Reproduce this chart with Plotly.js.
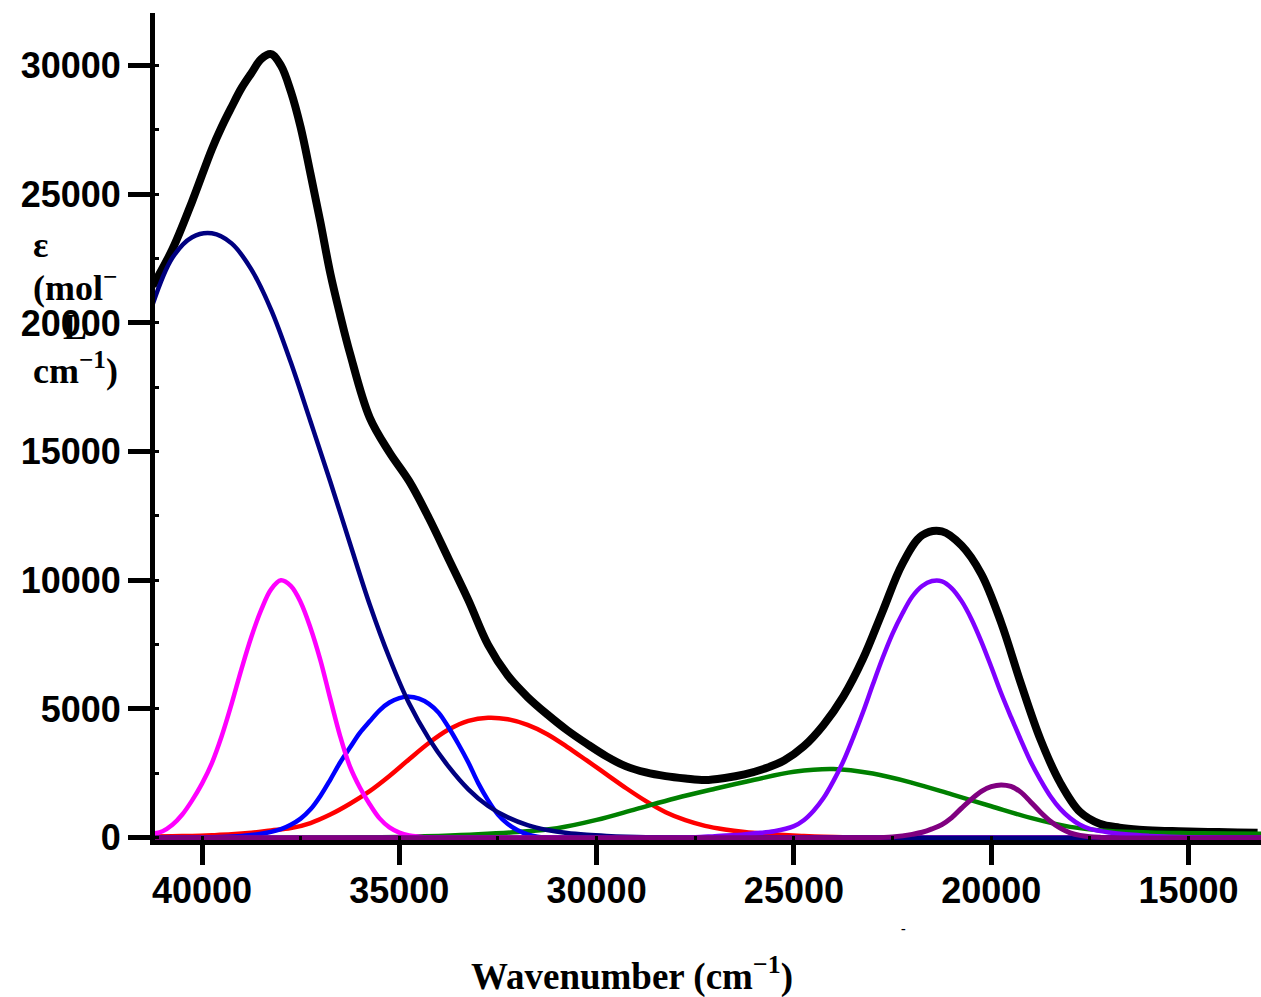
<!DOCTYPE html>
<html>
<head>
<meta charset="utf-8">
<script src="https://cdn.plot.ly/plotly-3.0.1.min.js"></script>
<style>html,body{margin:0;padding:0;background:#fff;}</style>
</head>
<body>
<div id="chart" style="width:1261px;height:997px;"></div>
<script>
// ---- tick labels ----
const xTickVals = [15000, 20000, 25000, 30000, 35000, 40000];
const xTickText = ["15000", "20000", "25000", "30000", "35000", "40000"];
const yTickVals = [0, 5000, 10000, 15000, 20000, 25000, 30000];
const yTickText = ["0", "5000", "10000", "15000", "20000", "25000", "30000"];

// ---- total (black) ----
const totalX = [41250, 40750, 40250, 39750, 39500, 39250, 39000, 38750, 38500, 38250, 38000, 37750, 37500, 37250, 37000, 36750, 36500, 36250, 35750, 35250, 34750, 34250, 33750, 33250, 32750, 32250, 31750, 31250, 30750, 30250, 29750, 29250, 28750, 28250, 27750, 27250, 26750, 26250, 25750, 25250, 24750, 24250, 23750, 23250, 22750, 22250, 21750, 21250, 20750, 20250, 19750, 19250, 18750, 18250, 17750, 17250, 16750, 16250, 15750, 15250, 14750, 14250, 13750, 13250];
const totalY = [21440, 22860, 24720, 26750, 27620, 28390, 29120, 29700, 30250, 30440, 30000, 29000, 27600, 25790, 23920, 21940, 20310, 18820, 16320, 14970, 13850, 12420, 10830, 9230, 7490, 6300, 5465, 4790, 4180, 3650, 3160, 2770, 2535, 2390, 2300, 2240, 2320, 2460, 2680, 3000, 3550, 4380, 5480, 6950, 8800, 10640, 11750, 11900, 11350, 10240, 8360, 6000, 3810, 2130, 1000, 540, 390, 310, 270, 250, 230, 220, 205, 190];

// ---- navy component ----
const navyX = [41250, 40750, 40250, 39750, 39250, 38750, 38250, 37750, 37250, 36750, 36250, 35750, 35250, 34750, 34250, 33750, 33250, 32750, 32250, 31750, 31250, 30750, 30250, 29750, 29250, 28750, 28250, 27750, 27000, 13163];
const navyY = [20720, 22530, 23330, 23480, 23090, 22080, 20520, 18470, 16170, 13840, 11430, 9060, 6980, 5210, 3850, 2760, 1880, 1230, 790, 490, 300, 180, 110, 65, 35, 18, 8, 2, 0, 0];

// ---- magenta component ----
const magentaX = [41250, 41000, 40750, 40500, 40250, 40000, 39750, 39500, 39250, 39000, 38750, 38500, 38250, 38000, 37750, 37500, 37250, 37000, 36750, 36500, 36250, 36000, 35750, 35500, 35250, 35000, 34750, 34500, 34250, 34000, 13163];
const magentaY = [150, 250, 500, 900, 1450, 2100, 2900, 3950, 5200, 6550, 7800, 8850, 9650, 10000, 9780, 9150, 8150, 6900, 5400, 3950, 2760, 1950, 1300, 750, 400, 200, 90, 40, 10, 0, 0];

// ---- blue component ----
const blueX = [41250, 40000, 39500, 39000, 38500, 38000, 37750, 37500, 37250, 37000, 36750, 36500, 36250, 36000, 35750, 35500, 35250, 35000, 34750, 34500, 34250, 34000, 33750, 33500, 33250, 33000, 32750, 32500, 32250, 32000, 31750, 31500, 31250, 31000, 13163];
const blueY = [0, 10, 30, 70, 150, 330, 500, 740, 1100, 1620, 2250, 2920, 3500, 4070, 4520, 4950, 5250, 5420, 5480, 5400, 5200, 4850, 4280, 3630, 2920, 2120, 1450, 900, 530, 290, 130, 40, 10, 0, 0];

// ---- red component ----
const redX = [41250, 40750, 40250, 39750, 39250, 38750, 38250, 37750, 37250, 36750, 36250, 35750, 35250, 34750, 34250, 33750, 33250, 32750, 32250, 31750, 31250, 30750, 30250, 29750, 29250, 28750, 28250, 27750, 27250, 26750, 26250, 25750, 25250, 24750, 24250, 23750, 23250, 22750, 13163];
const redY = [40, 55, 70, 95, 130, 190, 280, 370, 570, 900, 1320, 1810, 2400, 3050, 3680, 4200, 4540, 4660, 4600, 4380, 4020, 3530, 3000, 2460, 1920, 1420, 990, 680, 460, 320, 220, 150, 100, 65, 40, 20, 8, 0, 0];

// ---- green component ----
const greenX = [41250, 38000, 37000, 36000, 35000, 34000, 33000, 32000, 31000, 30000, 29000, 28000, 27000, 26000, 25000, 24000, 23000, 22000, 21000, 20000, 19000, 18000, 17000, 16000, 15000, 14000, 13163];
const greenY = [0, 0, 5, 15, 30, 70, 130, 220, 370, 690, 1110, 1530, 1900, 2250, 2560, 2670, 2490, 2130, 1680, 1220, 770, 420, 260, 200, 175, 160, 155];

// ---- violet component ----
const violetX = [41250, 28000, 27500, 27000, 26500, 26000, 25500, 25000, 24750, 24500, 24250, 24000, 23750, 23500, 23250, 23000, 22750, 22500, 22250, 22000, 21750, 21500, 21250, 21000, 20750, 20500, 20250, 20000, 19750, 19500, 19250, 19000, 18750, 18500, 18250, 18000, 17750, 17500, 17000, 16500, 16000, 15500, 15000, 14000, 13163];
const violetY = [0, 0, 20, 60, 100, 170, 250, 450, 680, 1050, 1540, 2200, 2960, 3880, 4870, 5950, 6990, 7930, 8710, 9370, 9780, 9970, 9960, 9690, 9190, 8490, 7620, 6640, 5620, 4690, 3800, 2950, 2240, 1610, 1120, 760, 500, 340, 200, 120, 70, 35, 15, 0, 0];

// ---- purple component ----
const purpleX = [41250, 23000, 22500, 22250, 22000, 21750, 21500, 21250, 21000, 20750, 20500, 20250, 20000, 19750, 19500, 19250, 19000, 18750, 18500, 18250, 18000, 17750, 17500, 17250, 17000, 13163];
const purpleY = [0, 0, 30, 70, 130, 210, 340, 510, 780, 1150, 1500, 1800, 1980, 2050, 1990, 1770, 1390, 990, 640, 370, 190, 90, 40, 15, 0, 0];

function tr(x, y, color, width) {
  return {x: x, y: y, type: 'scatter', mode: 'lines',
          line: {color: color, width: width, shape: 'spline', smoothing: 1},
          hoverinfo: 'skip', cliponaxis: true};
}

const traces = [
  tr(totalX, totalY, '#000000', 8),
  tr(redX, redY, '#FF0000', 4.5),
  tr(greenX, greenY, '#008000', 4.5),
  tr(blueX, blueY, '#0000FF', 4.5),
  tr(magentaX, magentaY, '#FF00FF', 4.5),
  tr(navyX, navyY, '#000080', 4.5),
  tr(violetX, violetY, '#8000FF', 4.5),
  tr(purpleX, purpleY, '#800080', 5)
];

const W = 1261, H = 997, ML = 155, MR = 0, MT = 13, MB = 157;
function px(p) { return (p - ML) / (W - ML - MR); }
function py(p) { return (H - MB - p) / (H - MT - MB); }

const serif = 'Liberation Serif, Times New Roman, serif';
const sans = 'Liberation Sans, Arial, sans-serif';

function ann(text, x, y, size, xanchor) {
  return {text: text, xref: 'paper', yref: 'paper', x: px(x), y: py(y),
          xanchor: xanchor || 'left', yanchor: 'middle', showarrow: false,
          font: {family: serif, size: size, color: '#000', weight: 'bold'}};
}

const layout = {
  width: W, height: H,
  margin: {l: ML, r: MR, t: MT, b: MB, pad: 0},
  paper_bgcolor: '#fff', plot_bgcolor: '#fff',
  showlegend: false,
  xaxis: {
    range: [41191, 13163],
    tickvals: xTickVals, ticktext: xTickText,
    ticks: 'outside', ticklen: 20, tickwidth: 5, tickcolor: '#000',
    ticklabelstandoff: -5,
    showline: true, linewidth: 5, linecolor: '#000',
    showgrid: false, zeroline: false,
    tickfont: {family: sans, size: 36, color: '#000', weight: 'bold'},
    minor: {ticks: 'inside', ticklen: 4, tickwidth: 3, tickcolor: '#000', dtick: 2500, tick0: 0, showgrid: false}
  },
  yaxis: {
    range: [-90, 32040],
    tickvals: yTickVals, ticktext: yTickText,
    ticks: 'outside', ticklen: 22, tickwidth: 5, tickcolor: '#000',
    showline: true, linewidth: 5, linecolor: '#000',
    showgrid: false, zeroline: false,
    tickfont: {family: sans, size: 36, color: '#000', weight: 'bold'},
    minor: {ticks: 'inside', ticklen: 4, tickwidth: 3, tickcolor: '#000', dtick: 2500, tick0: 0, showgrid: false}
  },
  annotations: [
    ann('ε', 31, 245, 36),
    ann('(mol<sup>−</sup>', 31, 285, 36),
    ann('L', 61, 327, 36),
    ann('cm<sup>−1</sup>)', 31, 368, 36),
    ann('Wavenumber (cm<sup>−1</sup>)', 632, 974, 37, 'center'),
    ann('-', 904, 929, 14, 'center')
  ]
};

Plotly.newPlot('chart', traces, layout, {staticPlot: true, displayModeBar: false});
</script>
</body>
</html>
